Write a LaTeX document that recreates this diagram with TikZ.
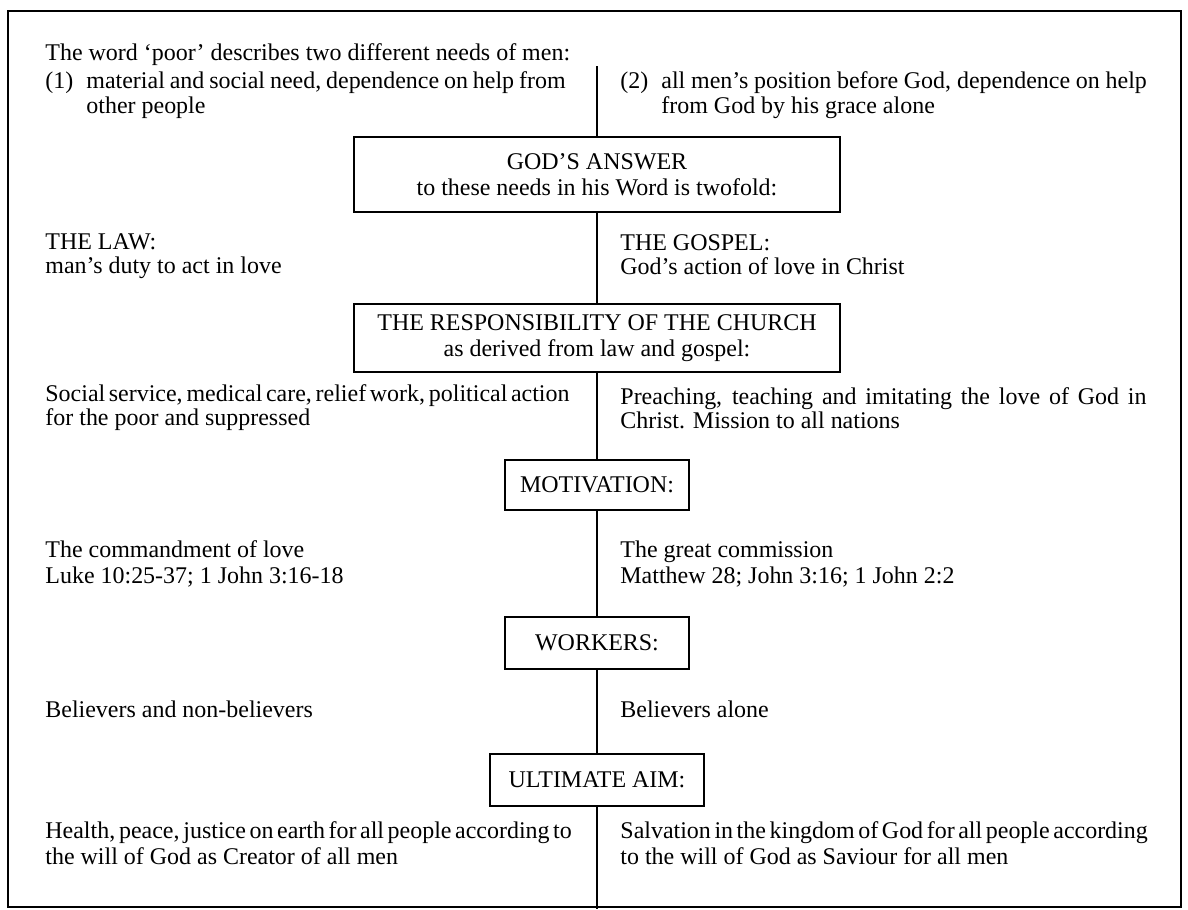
\documentclass[tikz,border=0pt]{standalone}
\usepackage{fontspec}
\setmainfont{Liberation Serif}

% stretch a line to a given measure (justified lines of the scan)
\newcommand{\fillto}[2]{\makebox[#1][s]{\spaceskip=0.2em plus 1em minus 0.05em\relax #2}}

\tikzset{
  headbox/.style={draw,line width=1pt,align=center,inner sep=0pt},
  linetext/.style={anchor=base west,inner sep=0pt},
}

\begin{document}
\begin{tikzpicture}[x=0.48pt,y=-0.48pt,font=\fontsize{11.5}{12.3}\selectfont]

\useasboundingbox (0,0) rectangle (1188,909);

% Frame
\draw[line width=0.8pt] (8,11) rectangle (1181,907);

% Two needs
\node[linetext] (needs) at (45,60) {The word `poor' describes two different needs of men:};
\node[linetext] (oneno) at (45,88) {(1)};
\node[linetext] (onea) at (86,88) {\fillto{230pt}{material and social need, dependence on help from}};
\node[linetext] (oneb) at (86,113) {other people};
\node[linetext] (twono) at (620,88) {(2)};
\node[linetext] (twoa) at (661,88) {\fillto{233pt}{all men's position before God, dependence on help}};
\node[linetext] (twob) at (661,113) {from God by his grace alone};

% Boxes on the spine
\node[headbox,minimum width=233pt,minimum height=36pt] (answer) at (597,174.5) {GOD'S ANSWER\\to these needs in his Word is twofold:};
\node[headbox,minimum width=233pt,minimum height=33pt] (church) at (597,338) {THE RESPONSIBILITY OF THE CHURCH\\as derived from law and gospel:};
\node[headbox,minimum width=88pt,minimum height=24pt] (motive) at (597,485) {MOTIVATION:};
\node[headbox,minimum width=88pt,minimum height=25pt] (workers) at (597,643) {WORKERS:};
\node[headbox,minimum width=103pt,minimum height=25pt] (aim) at (597,780) {ULTIMATE AIM:};

% Law and gospel
\node[linetext] (law) at (45,249) {THE LAW:};
\node[linetext] (lawb) at (45,273) {man's duty to act in love};
\node[linetext] (gospel) at (620,250) {THE GOSPEL:};
\node[linetext] (gospelb) at (620,274) {God's action of love in Christ};

% Church work
\node[linetext] (social) at (45,401) {\fillto{249.6pt}{Social service, medical care, relief work, political action}};
\node[linetext] (socialb) at (45,425) {for the poor and suppressed};
\node[linetext] (preach) at (620,404) {\fillto{252.5pt}{Preaching, teaching and imitating the love of God in}};
\node[linetext] (preachb) at (620,428) {Christ. Mission to all nations};

% Motivation
\node[linetext] (love) at (45,557) {The commandment of love};
\node[linetext] (loveb) at (45,583) {Luke 10:25-37; 1 John 3:16-18};
\node[linetext] (commission) at (620,557) {The great commission};
\node[linetext] (commissionb) at (620,583) {Matthew 28; John 3:16; 1 John 2:2};

% Workers
\node[linetext] (allwork) at (45,717) {Believers and non-believers};
\node[linetext] (onlybel) at (620,717) {Believers alone};

% Ultimate aim
\node[linetext] (health) at (45,838) {\fillto{249.6pt}{Health, peace, justice on earth for all people according to}};
\node[linetext] (healthb) at (45,864) {the will of God as Creator of all men};
\node[linetext] (salvation) at (620,838) {\fillto{252.5pt}{Salvation in the kingdom of God for all people according}};
\node[linetext] (salvationb) at (620,864) {to the will of God as Saviour for all men};

% Spine
\coordinate (spinetop) at (597,66);
\coordinate (spinebottom) at (597,909);
\draw[line width=0.8pt] (spinetop) -- (answer.north);
\draw[line width=0.8pt] (answer.south) -- (church.north);
\draw[line width=0.8pt] (church.south) -- (motive.north);
\draw[line width=0.8pt] (motive.south) -- (workers.north);
\draw[line width=0.8pt] (workers.south) -- (aim.north);
\draw[line width=0.8pt] (aim.south) -- (spinebottom);

\end{tikzpicture}
\end{document}
